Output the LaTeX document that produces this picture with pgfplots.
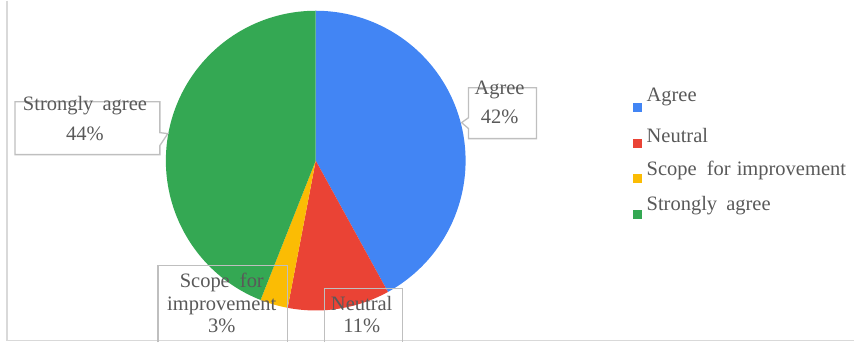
\documentclass[border=0pt]{standalone}
\usepackage{pgfplots}
\pgfplotsset{compat=1.18}
\usepackage{pgfplotstable}
\usepackage{fontspec}
\setmainfont{Liberation Serif}
\definecolor{cAgree}{HTML}{4285F4}
\definecolor{cNeutral}{HTML}{EA4335}
\definecolor{cScope}{HTML}{FBBC04}
\definecolor{cStrong}{HTML}{34A853}
\definecolor{txt}{HTML}{595959}
\definecolor{boxc}{HTML}{BFBFBF}
\definecolor{framec}{HTML}{D9D9D9}

\pgfplotstableread{
label value
Agree 42
Neutral 11
Scope 3
Strongly 44
}\piedata

\pgfplotstablegetelem{0}{value}\of\piedata \let\vA\pgfplotsretval
\pgfplotstablegetelem{1}{value}\of\piedata \let\vB\pgfplotsretval
\pgfplotstablegetelem{2}{value}\of\piedata \let\vC\pgfplotsretval
\pgfplotstablegetelem{3}{value}\of\piedata \let\vD\pgfplotsretval
\pgfmathsetmacro\sA{0}
\pgfmathsetmacro\sB{\vA}
\pgfmathsetmacro\sC{\vA+\vB}
\pgfmathsetmacro\sD{\vA+\vB+\vC}

% start, value, colour
\newcommand\pieslice[3]{%
  \addplot[fill=#3, draw=none, samples at={-1,0,1,...,100}, variable=\t]
    ({316+150*(\t>=0)*cos(90-3.6*(#1+max(\t,0)/100*#2))},
     {182+150*(\t>=0)*sin(90-3.6*(#1+max(\t,0)/100*#2))});%
}

\begin{document}
\begin{tikzpicture}[font=\fontsize{20.5}{24}\selectfont, every node/.style={text=txt, inner sep=0pt}]
\begin{axis}[scale only axis, width=855pt, height=342pt,
  xmin=0, xmax=855, ymin=0, ymax=342, hide axis, clip=false]
  % full canvas as bounding box
  \path (rel axis cs:0,0) rectangle (rel axis cs:1,1);
  % frame
  \draw[framec, line width=1.5pt] (axis cs:7,342) -- (axis cs:7,2) -- (axis cs:855,2);
  % pie
  \pieslice{\sA}{\vA}{cAgree}
  \pieslice{\sB}{\vB}{cNeutral}
  \pieslice{\sC}{\vC}{cScope}
  \pieslice{\sD}{\vD}{cStrong}
  % data label boxes
  \draw[boxc, line width=1.3pt] (axis cs:160,241) -- (axis cs:160,210) -- (axis cs:168,209)
     -- (axis cs:160,197) -- (axis cs:160,188) -- (axis cs:15,188) -- (axis cs:15,241) -- cycle;
  \node[anchor=base] at (axis cs:85,232) {Strongly\hspace{4pt} agree};
  \node[anchor=base] at (axis cs:85,202) {44\%};

  \draw[boxc, line width=1.3pt] (axis cs:469,255) -- (axis cs:469,225) -- (axis cs:462,220)
     -- (axis cs:469,214) -- (axis cs:469,204) -- (axis cs:537,204) -- (axis cs:537,255) -- cycle;
  \node[anchor=base] at (axis cs:500,248) {Agree};
  \node[anchor=base] at (axis cs:500,219) {42\%};

  \draw[boxc, line width=1.3pt] (axis cs:158,0) -- (axis cs:158,77) -- (axis cs:288,77) -- (axis cs:288,0);
  \node[anchor=base] at (axis cs:222,55) {Scope\hspace{5pt} for};
  \node[anchor=base] at (axis cs:222,32) {improvement};
  \node[anchor=base] at (axis cs:222,10) {3\%};

  \draw[boxc, line width=1.3pt] (axis cs:325,0) -- (axis cs:325,54) -- (axis cs:403,54) -- (axis cs:403,0);
  \node[anchor=base] at (axis cs:362,32) {Neutral};
  \node[anchor=base] at (axis cs:362,10) {11\%};

  % legend
  \fill[cAgree]   (axis cs:634,231) rectangle (axis cs:643,240);
  \node[anchor=base west] at (axis cs:647,241) {Agree};
  \fill[cNeutral] (axis cs:634,195) rectangle (axis cs:643,204);
  \node[anchor=base west] at (axis cs:647,200.5) {Neutral};
  \fill[cScope]   (axis cs:634,160) rectangle (axis cs:643,169);
  \node[anchor=base west] at (axis cs:647,167) {Scope\hspace{5pt} for\hspace{1pt} improvement};
  \fill[cStrong]  (axis cs:634,124) rectangle (axis cs:643,133);
  \node[anchor=base west] at (axis cs:647,132) {Strongly\hspace{4pt} agree};
\end{axis}
\end{tikzpicture}
\end{document}
